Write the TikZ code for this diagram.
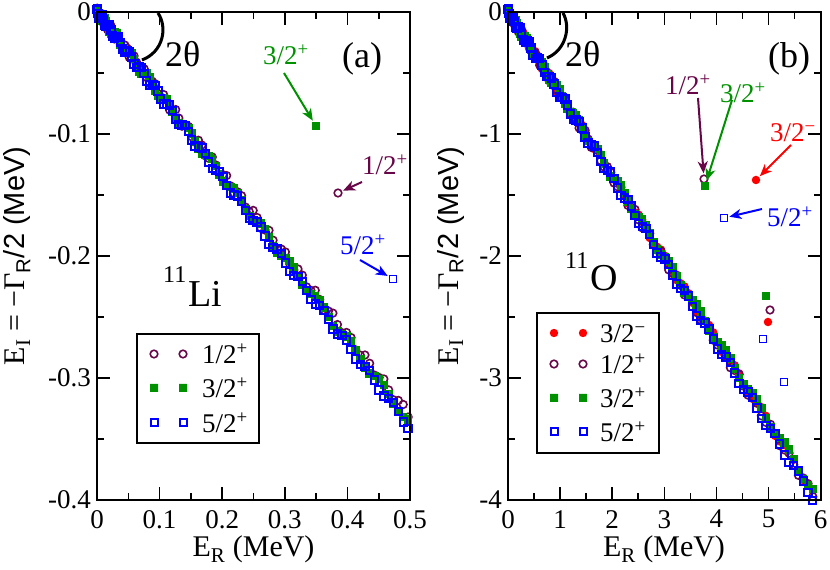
\documentclass[tikz,border=0pt]{standalone}
\usepackage{fontspec}
\setmainfont{Liberation Serif}
\setsansfont{Liberation Sans}
\usetikzlibrary{arrows.meta}
\definecolor{maroon}{RGB}{103,7,72}
\definecolor{grn}{RGB}{0,145,0}
\definecolor{blu}{RGB}{0,0,255}
\definecolor{rd}{RGB}{255,0,0}
\newcommand{\fs}[1]{\fontsize{#1}{#1}\selectfont}
\tikzstyle{frame} = [line width=1.8pt]
\tikzstyle{tick} = [line width=1.6pt]
\tikzstyle{ticklab} = [inner sep=0pt, font=\fs{27}]
\tikzstyle{lab} = [inner sep=0pt, anchor=base west, font=\fs{27}]
\tikzstyle{ylab} = [rotate=90, anchor=base, inner sep=0pt, font=\fs{30}]
\tikzstyle{xlab} = [anchor=base, inner sep=0pt, font=\fs{30}]
\tikzstyle{big} = [anchor=base west, inner sep=0pt, font=\fs{36}]
\tikzstyle{mkcirc} = [draw=maroon, line width=1.6pt]
\tikzstyle{mkblue} = [draw=blu, line width=2pt]
\tikzstyle{ptcirc} = [circle, draw=maroon, line width=1.6pt, minimum size=7.6pt, inner sep=0pt]
\tikzstyle{ptred} = [circle, fill=rd, minimum size=8.5pt, inner sep=0pt]
\tikzstyle{ptgreen} = [rectangle, fill=grn, minimum size=8.5pt, inner sep=0pt]
\tikzstyle{ptblue} = [rectangle, draw=blu, line width=1.8pt, minimum size=7pt, inner sep=0pt]
\tikzstyle{arr} = [line width=2pt, -{Stealth[length=12pt,width=10pt,inset=3.5pt]}, shorten >=1pt]

\begin{document}
\begin{tikzpicture}[x=1pt, y=1pt]
    \useasboundingbox (0,0) rectangle (830,570);

    %% (a) 11Li

    \begin{scope}[shift={(97,558)}, x=626pt, y=1220pt]
        \foreach \i in {0,...,95} {
            \pgfmathsetmacro{\er}{0.497*(\i/95)*sqrt(\i/95)}
            \pgfmathsetmacro{\ei}{-0.664*\er+0.0035*sin(\i*97)}
            \draw[mkcirc] (\er,\ei) circle[radius=3.8pt];
        }
        \foreach \i in {0,...,95} {
            \pgfmathsetmacro{\er}{0.497*(\i/95)*sqrt(\i/95)}
            \pgfmathsetmacro{\ei}{-0.674*\er+0.0035*sin(\i*53+20)}
            \fill[grn] (\er,\ei) ++(-4.2pt,-4.2pt) rectangle ++(8.4pt,8.4pt);
        }
        \foreach \i in {0,...,95} {
            \pgfmathsetmacro{\er}{0.497*(\i/95)*sqrt(\i/95)}
            \pgfmathsetmacro{\ei}{-0.682*\er+0.003*sin(\i*71+40)}
            \draw[mkblue] (\er,\ei) ++(-3.7pt,-3.7pt) rectangle ++(7.4pt,7.4pt);
        }

        \draw[frame] (0,0) rectangle (0.5,-0.4);
        \foreach \x in {0.1,0.2,0.3,0.4}
            \draw[tick] (\x,-0.4) -- ++(0pt,13pt) (\x,0) -- ++(0pt,-13pt);
        \foreach \x in {0.05,0.15,0.25,0.35,0.45}
            \draw[tick] (\x,-0.4) -- ++(0pt,7pt) (\x,0) -- ++(0pt,-7pt);
        \foreach \y in {-0.1,-0.2,-0.3}
            \draw[tick] (0,\y) -- ++(13pt,0pt) (0.5,\y) -- ++(-13pt,0pt);
        \foreach \y in {-0.05,-0.15,-0.25,-0.35}
            \draw[tick] (0,\y) -- ++(7pt,0pt) (0.5,\y) -- ++(-7pt,0pt);
        \foreach \x/\t in {0/0,0.1/0.1,0.2/0.2,0.3/0.3,0.4/0.4,0.5/0.5}
            \node (xtL\t) [ticklab, anchor=north, yshift=-10pt] at (\x,-0.4) {\t};
        \foreach \y/\t in {0/0,-0.1/-0.1,-0.2/-0.2,-0.3/-0.3,-0.4/-0.4}
            \node (ytL\t) [ticklab, anchor=east, xshift=-6pt] at (0,\y) {\t};
    \end{scope}

    \node (ylabL) [ylab] at (25,314) {E\textsubscript{I} = −Γ{\sffamily\fs{29}\textsubscript{R}/2 (MeV)}};
    \node (xlabL) [xlab] at (253.5,13) {E\textsubscript{R} (MeV)};

    \draw[line width=3pt] (158,557) .. controls (168,542) and (163,518) .. (142,510);
    \node (thetaL) [big] at (165,503) {2θ};
    \node (panA) [big] at (342,502) {(a)};
    \node (nucLi) [anchor=base west, inner sep=0pt, font=\fs{38}] at (163,263) {\raisebox{24pt}{\fs{24}11}\kern2pt Li};

    \node (ptL32) [ptgreen] at (316,444) {};
    \node (ptL12) [ptcirc] at (338,377) {};
    \node (ptL52) [ptblue] at (393,291) {};
    \node (labL32) [lab, grn] at (263,505) {3/2\textsuperscript{+}};
    \node (labL12) [lab, maroon] at (362,395) {1/2\textsuperscript{+}};
    \node (labL52) [lab, blu] at (340,315) {5/2\textsuperscript{+}};
    \coordinate (tL32) at (284,497);
    \coordinate (tL12) at (362,388);
    \coordinate (tL52) at (360,310);
    \draw[arr, grn] (tL32) -- (ptL32);
    \draw[arr, maroon] (tL12) -- (ptL12);
    \draw[arr, blu] (tL52) -- (ptL52);

    % legend (a)
    \draw[line width=1.5pt] (137,236) rectangle (259,127);
    \draw[mkcirc] (154,216) circle[radius=3.8pt] (183,216) circle[radius=3.8pt];
    \fill[grn] (150,178) rectangle ++(8,8) (179,178) rectangle ++(8,8);
    \draw[mkblue] (150.5,143.5) rectangle ++(7,7) (179.5,143.5) rectangle ++(7,7);
    \node (legL1) [lab] at (202,206) {1/2\textsuperscript{+}};
    \node (legL2) [lab] at (202,172) {3/2\textsuperscript{+}};
    \node (legL3) [lab] at (202,137) {5/2\textsuperscript{+}};

    %% (b) 11O

    \begin{scope}[shift={(508,558)}, x=52.1pt, y=122pt]
        \foreach \i in {0,...,95} {
            \pgfmathsetmacro{\er}{5.85*(\i/95)*sqrt(\i/95)}
            \pgfmathsetmacro{\ei}{-0.672*\er+0.03*sin(\i*61)}
            \fill[rd] (\er,\ei) circle[radius=4.2pt];
        }
        \foreach \i in {0,...,95} {
            \pgfmathsetmacro{\er}{5.85*(\i/95)*sqrt(\i/95)}
            \pgfmathsetmacro{\ei}{-0.676*\er+0.03*sin(\i*97)}
            \draw[mkcirc] (\er,\ei) circle[radius=3.8pt];
        }
        \foreach \i in {0,...,95} {
            \pgfmathsetmacro{\er}{5.85*(\i/95)*sqrt(\i/95)}
            \pgfmathsetmacro{\ei}{-0.670*\er+0.03*sin(\i*53+20)}
            \fill[grn] (\er,\ei) ++(-4.2pt,-4.2pt) rectangle ++(8.4pt,8.4pt);
        }
        \foreach \i in {0,...,95} {
            \pgfmathsetmacro{\er}{5.85*(\i/95)*sqrt(\i/95)}
            \pgfmathsetmacro{\ei}{-0.680*\er+0.03*sin(\i*71+40)}
            \draw[mkblue] (\er,\ei) ++(-3.7pt,-3.7pt) rectangle ++(7.4pt,7.4pt);
        }

        \draw[frame] (0,0) rectangle (6,-4);
        \foreach \x in {1,...,5}
            \draw[tick] (\x,-4) -- ++(0pt,13pt) (\x,0) -- ++(0pt,-13pt);
        \foreach \x in {0.5,1.5,2.5,3.5,4.5,5.5}
            \draw[tick] (\x,-4) -- ++(0pt,7pt) (\x,0) -- ++(0pt,-7pt);
        \foreach \y in {-1,-2,-3}
            \draw[tick] (0,\y) -- ++(13pt,0pt) (6,\y) -- ++(-13pt,0pt);
        \foreach \y in {-0.5,-1.5,-2.5,-3.5}
            \draw[tick] (0,\y) -- ++(7pt,0pt) (6,\y) -- ++(-7pt,0pt);
        \foreach \x in {0,...,6}
            \node (xtR\x) [ticklab, anchor=north, yshift=-10pt] at (\x,-4) {\x};
        \foreach \y in {0,-1,-2,-3,-4}
            \node (ytR\y) [ticklab, anchor=east, xshift=-6pt] at (0,\y) {\y};
    \end{scope}

    \node (ylabR) [ylab] at (458,314) {E\textsubscript{I} = −Γ{\sffamily\fs{29}\textsubscript{R}/2 (MeV)}};
    \node (xlabR) [xlab] at (664,13) {E\textsubscript{R} (MeV)};

    \draw[line width=3pt] (563,557) .. controls (571,543) and (566,520) .. (547,512);
    \node (thetaR) [big] at (565,503) {2θ};
    \node (panB) [big] at (768,502) {(b)};
    \node (nucO) [anchor=base west, inner sep=0pt, font=\fs{38}] at (565,279) {\raisebox{22pt}{\fs{24}11}\kern2pt O};

    \node (ptR12) [ptcirc] at (704,391) {};
    \node (ptR32) [ptgreen] at (705,384) {};
    \node (ptR32m) [ptred] at (756,390) {};
    \node (ptR52) [ptblue] at (724,352) {};
    \node (ptRa) [ptgreen] at (766,274) {};
    \node (ptRb) [ptcirc] at (770,260) {};
    \node (ptRc) [ptred] at (768,248) {};
    \node (ptRd) [ptblue] at (763,231) {};
    \node (ptRe) [ptblue] at (784,188) {};
    \node (labR12) [lab, maroon] at (665,475) {1/2\textsuperscript{+}};
    \node (labR32) [lab, grn] at (720,467) {3/2\textsuperscript{+}};
    \node (labR32m) [lab, rd] at (770,428) {3/2\textsuperscript{−}};
    \node (labR52) [lab, blu] at (767,343) {5/2\textsuperscript{+}};
    \coordinate (tR12) at (698,472);
    \coordinate (tR32) at (732,470);
    \coordinate (tR32m) at (791,425);
    \coordinate (tR52) at (762,361);
    \draw[arr, maroon] (tR12) -- (ptR12);
    \draw[arr, grn] (tR32) -- (ptR32);
    \draw[arr, rd] (tR32m) -- (ptR32m);
    \draw[arr, blu] (tR52) -- (ptR52);

    % legend (b)
    \draw[line width=1.5pt] (537,257) rectangle (659,117);
    \fill[rd] (554,237) circle[radius=4.2pt] (583,237) circle[radius=4.2pt];
    \draw[mkcirc] (554,206) circle[radius=3.8pt] (583,206) circle[radius=3.8pt];
    \fill[grn] (550,168) rectangle ++(8,8) (579,168) rectangle ++(8,8);
    \draw[mkblue] (550.5,134.5) rectangle ++(7,7) (579.5,134.5) rectangle ++(7,7);
    \node (legR1) [lab] at (600,227) {3/2\textsuperscript{−}};
    \node (legR2) [lab] at (600,196) {1/2\textsuperscript{+}};
    \node (legR3) [lab] at (600,162) {3/2\textsuperscript{+}};
    \node (legR4) [lab] at (600,128) {5/2\textsuperscript{+}};

\end{tikzpicture}
\end{document}
